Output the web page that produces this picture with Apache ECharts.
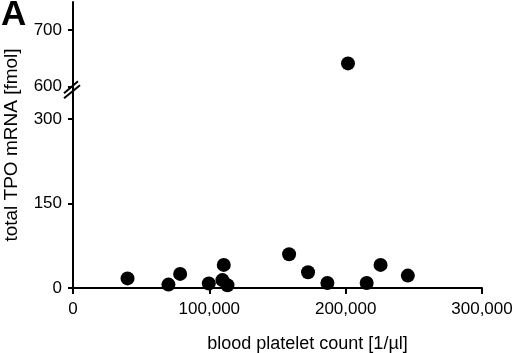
<!DOCTYPE html>
<html>
<head>
<meta charset="utf-8">
<script src="https://cdn.jsdelivr.net/npm/echarts@6/dist/echarts.min.js"></script>
<style>
  html, body { margin: 0; padding: 0; background: #fff; }
  #chart { width: 520px; height: 353px; }
</style>
</head>
<body>
<div id="chart"></div>
<script>
var plateletCount = [40000, 70000, 78600, 99600, 109600, 110600, 113300, 158500, 172400, 186600, 201700, 215400, 225600, 245600];
var tpoMrna = [17, 6, 25, 8, 14, 41, 5, 60, 28, 9, 641, 9, 41, 22];
var yTicks = [0, 150, 300, 600, 700];
var xTicks = [0, 100000, 200000, 300000];

var points = [];
for (var i = 0; i < plateletCount.length; i++) {
    points.push([plateletCount[i], tpoMrna[i]]);
}

var font = 'Liberation Sans, Arial, sans-serif';
var myChart = echarts.init(document.getElementById('chart'));

var option = {
    animation: false,
    backgroundColor: '#fff',
    grid: { left: 73, right: 38, top: 2, bottom: 65, outerBoundsMode: 'none', containLabel: false },
    title: {
        text: 'A',
        left: 1,
        top: -2,
        padding: 0,
        textStyle: { fontFamily: font, fontSize: 35, fontWeight: 'bold', color: '#000' }
    },
    xAxis: {
        type: 'value',
        min: 0,
        max: 300000,
        interval: 100000,
        name: 'blood platelet count [1/\u00b5l]',
        nameLocation: 'middle',
        nameGap: 47,
        nameTextStyle: { fontFamily: font, fontSize: 18, color: '#000', padding: [0, 0, 0, 60] },
        splitLine: { show: false },
        axisLine: { show: true, lineStyle: { color: '#000', width: 2 } },
        axisTick: { show: true, length: 6, customValues: xTicks, lineStyle: { color: '#000', width: 2 } },
        axisLabel: {
            fontFamily: font, fontSize: 17, color: '#000', margin: 13, customValues: xTicks,
            formatter: function (v) { return v.toLocaleString('en-US'); }
        }
    },
    yAxis: [{
        type: 'value',
        min: 0,
        max: 750,
        name: 'total TPO mRNA [fmol]',
        nameLocation: 'middle',
        nameGap: 52,
        nameTextStyle: { fontFamily: font, fontSize: 19, color: '#000' },
        breaks: [{ start: 330, end: 590, gap: '3.5%' }],
        breakArea: { show: false },
        splitLine: { show: false },
        axisLine: { show: false },
        axisTick: { show: true, length: 5, customValues: yTicks, lineStyle: { color: '#000', width: 2 } },
        axisLabel: { fontFamily: font, fontSize: 17, color: '#000', margin: 11, customValues: yTicks }
    }, {
        // plain axis line through the break
        type: 'value',
        position: 'left',
        min: 0,
        max: 1,
        splitLine: { show: false },
        axisLine: { show: true, onZero: false, lineStyle: { color: '#000', width: 2 } },
        axisTick: { show: false },
        axisLabel: { show: false }
    }],
    series: [{
        type: 'scatter',
        data: points,
        symbol: 'circle',
        symbolSize: 14,
        itemStyle: { color: '#000', opacity: 1 }
    }]
};

myChart.setOption(option);

// break marks on the y axis
var yMid = myChart.convertToPixel({ yAxisIndex: 0 }, 595);
var x0 = myChart.convertToPixel({ xAxisIndex: 0 }, 0);
myChart.setOption({
    graphic: [
        { type: 'line', shape: { x1: x0 - 9, y1: yMid + 9, x2: x0 + 7, y2: yMid - 4 }, style: { stroke: '#000', lineWidth: 2 } },
        { type: 'line', shape: { x1: x0 - 9, y1: yMid + 4, x2: x0 + 5, y2: yMid - 8 }, style: { stroke: '#000', lineWidth: 2 } }
    ]
});
</script>
</body>
</html>
